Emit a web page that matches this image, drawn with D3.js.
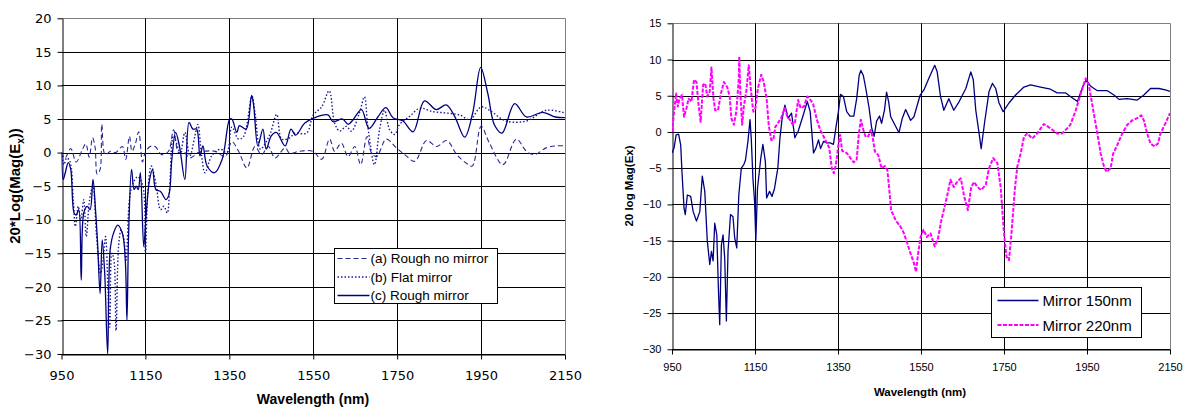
<!DOCTYPE html>
<html>
<head>
<meta charset="utf-8">
<script src="https://cdn.jsdelivr.net/npm/d3@7"></script>
<style>
  body { margin: 0; background: #fff; }
  svg { display: block; }
  text { font-family: "Liberation Sans", Arial, sans-serif; fill: #000; }
</style>
</head>
<body>
<svg id="chart" width="1184" height="409"></svg>
<script>
// wavelength ticks shared by both panels
const xTicks = [950, 1150, 1350, 1550, 1750, 1950, 2150];
const leftYTicks = [-30, -25, -20, -15, -10, -5, 0, 5, 10, 15, 20];
const rightYTicks = [-30, -25, -20, -15, -10, -5, 0, 5, 10, 15];

// left panel: [wavelength nm, 20*log(Mag(Ex))]
const roughNoMirror = [[950,0],[958,-0.85],[972,0.6],[985,-1.4],[1000,0.5],[1008,1.3],[1016,-0.7],[1024,2.2],[1030,0.8],[1035,-3.2],[1042,-2.5],[1046,4.2],[1054,-0.3],[1067,0.2],[1079,0],[1095,0.9],[1103,-1.0],[1112,2.4],[1118,0.2],[1126,1.3],[1134,3.1],[1143,-1.4],[1149,-0.1],[1161,0.9],[1173,0.9],[1189,-0.3],[1205,0.2],[1217,3.4],[1229,0],[1240,0.2],[1256,-0.8],[1276,0],[1292,0.2],[1316,0.2],[1340,-0.6],[1356,1.6],[1372,0.2],[1392,-2.3],[1411,0.9],[1427,-0.3],[1443,0.9],[1459,-0.8],[1483,0.7],[1494,-0.1],[1517,0.2],[1549,0.2],[1570,-1.0],[1589,2.0],[1601,0.2],[1617,1.4],[1633,-0.6],[1649,0.9],[1663,-1.8],[1678,2.4],[1689,-0.1],[1701,-0.6],[1724,2.0],[1748,0.7],[1768,-0.3],[1792,-1.3],[1820,1.8],[1844,0.9],[1868,1.8],[1892,-0.3],[1915,-1.6],[1929,-2.0],[1950,3.9],[1970,1.4],[2002,-1.8],[2034,2.0],[2058,0.2],[2077,-0.3],[2105,0.7],[2128,1.0],[2150,1.0]];

const flatMirror = [[950,0],[956,-1.8],[962,-0.8],[970,-1.3],[978,-7],[983,-11],[990,-8],[996,-10],[1003,-7],[1009,-12.5],[1017,-7],[1025,-5],[1033,-12],[1043,-18],[1049,-16],[1055,-12.5],[1061,-21],[1065,-26],[1070,-15],[1075,-16],[1080,-26.5],[1086,-14],[1092,-11.5],[1099,-13],[1104,-16],[1112,-7],[1120,-4.6],[1132,-3.6],[1144,-5],[1150,-15],[1156,-5.5],[1164,-2],[1175,-4.6],[1186,-8.5],[1194,-8],[1202,-9],[1208,-5],[1217,2.5],[1233,0],[1244,3],[1256,-0.5],[1268,2.5],[1275,4.2],[1284,-0.5],[1292,-3],[1308,-0.5],[1328,0.5],[1344,0],[1356,3.8],[1372,2],[1384,2.4],[1404,8.4],[1412,5.5],[1424,0.5],[1436,1.4],[1448,2.9],[1463,5.7],[1475,2],[1494,2.2],[1506,2.9],[1534,2.9],[1550,5.6],[1570,6.8],[1588,9.2],[1601,4.4],[1613,3.2],[1629,3.9],[1641,3.2],[1660,5.9],[1672,8.3],[1680,3.9],[1696,-1.8],[1708,3.4],[1720,6.3],[1732,3.4],[1744,2.7],[1756,4.2],[1780,5.4],[1804,6.6],[1835,6.1],[1867,5.9],[1899,5.6],[1923,4.9],[1950,6.8],[1970,6.3],[2010,4.7],[2058,4.7],[2105,6.3],[2150,5.9]];

const roughMirror = [[950,0],[954,-4],[959,-3],[966,-1.5],[972,-2.5],[980,-9],[985,-9.3],[991,-8.5],[997,-19],[1003,-9],[1011,-8],[1018,-8.5],[1025,-4],[1031,-8.5],[1036,-13.5],[1042,-21],[1047,-13],[1053,-18],[1060,-30],[1066,-14.5],[1074,-12],[1084,-10.8],[1095,-12],[1102,-16],[1106,-25],[1110,-12],[1117,-2.5],[1123,-5.5],[1128,-5],[1133,-5.5],[1138,-3],[1146,-14],[1152,-9],[1160,-4],[1167,-2.5],[1175,-5.5],[1186,-5.8],[1199,-7],[1206,-6.3],[1213,-1],[1222,3],[1231,1],[1244,-4],[1254,4.5],[1263,3.5],[1272,3.5],[1280,-0.5],[1287,1],[1297,-2],[1315,-3],[1333,-1],[1351,5],[1356,5],[1368,3],[1374,4],[1390,3.5],[1403,8.5],[1408,7],[1418,1],[1430,3.5],[1438,0.5],[1450,2.5],[1462,3],[1483,1],[1497,3.5],[1508,2.6],[1530,4.4],[1550,5.1],[1585,5.6],[1597,4.6],[1620,5.0],[1633,4.2],[1645,4.9],[1665,6.4],[1683,3.6],[1704,5.3],[1723,6.7],[1740,5.2],[1764,4.7],[1788,3.1],[1815,7.7],[1843,6.4],[1867,7.1],[1887,5.4],[1911,2.3],[1930,5.9],[1949,12.7],[1966,8.8],[1982,4.1],[2000,2.9],[2030,7.3],[2058,5.3],[2097,6.0],[2127,5.3],[2150,5.2]];

// right panel: [wavelength nm, 20 log Mag(Ex)]
const mirror150 = [[950,-2.9],[955,-2.2],[960,-0.4],[966,-0.3],[971,-1.8],[974,-5.5],[979,-10.5],[982,-11.4],[987,-8.7],[995,-8.9],[1001,-11],[1009,-12.3],[1017,-11],[1023,-6.1],[1029,-8.2],[1035,-15],[1041,-18.3],[1045,-16.5],[1049,-17.8],[1053,-12.6],[1058,-14.2],[1062,-22],[1065,-26.6],[1069,-15.6],[1073,-14.2],[1077,-17.4],[1081,-26.1],[1085,-16.5],[1091,-11.4],[1097,-11.7],[1101,-14.6],[1106,-16],[1111,-8.7],[1117,-5],[1123,-4.5],[1127,-3.9],[1133,-1.3],[1138,1.7],[1141,-0.9],[1145,-6.4],[1149,-9.6],[1152,-15],[1156,-7.8],[1164,-3.6],[1169,-1.7],[1175,-4.1],[1178,-9.1],[1185,-8.2],[1191,-8.9],[1197,-7.8],[1205,-5],[1210,-0.9],[1215,1.7],[1222,3.7],[1230,1.9],[1238,2.6],[1246,-0.8],[1254,0.1],[1265,2.1],[1276,4.2],[1283,2.8],[1286,0.6],[1291,-2.9],[1297,-2.2],[1303,-1.1],[1308,-2.3],[1315,-1.3],[1323,-1.5],[1331,-1.5],[1339,-1.7],[1345,0.6],[1351,2.8],[1356,5.2],[1363,4.9],[1371,2.8],[1379,2.2],[1388,2.2],[1395,4.6],[1401,7.8],[1405,8.5],[1411,7.8],[1417,6],[1425,3.3],[1431,0.6],[1437,-0.6],[1443,1.5],[1450,2.2],[1455,1.2],[1462,3],[1467,5.5],[1472,4.2],[1477,2.1],[1485,1.2],[1497,-0.1],[1505,1.9],[1513,3.1],[1525,1.6],[1533,2.1],[1548,5.1],[1557,5.8],[1569,7.4],[1583,9.2],[1589,8.3],[1597,4.9],[1605,3.0],[1617,4.6],[1629,3.0],[1642,4.2],[1658,6.0],[1670,8.3],[1676,7.2],[1682,3.0],[1690,-0.2],[1695,-2.3],[1703,1.2],[1714,5.6],[1722,6.7],[1730,6.0],[1738,4.0],[1748,2.8],[1762,4.0],[1778,5.1],[1798,6.2],[1814,6.5],[1838,6.2],[1862,5.9],[1878,5.4],[1898,5.4],[1910,4.9],[1927,4.2],[1940,6.3],[1948,7.2],[1959,6.3],[1975,5.7],[1999,5.7],[2015,5.1],[2027,4.5],[2047,4.6],[2071,4.4],[2087,5.1],[2103,6.0],[2123,6.0],[2139,5.8],[2150,5.6]];

const mirror220 = [[950,0],[955,2.8],[960,5.3],[964,3.5],[968,4.6],[974,5.1],[979,2.1],[985,3.3],[990,4.6],[997,4.2],[1003,7.2],[1009,6.9],[1014,3.7],[1019,1.4],[1025,6.5],[1030,6.7],[1035,4.9],[1041,5.6],[1045,8.9],[1050,4.6],[1054,3],[1061,3],[1067,5.1],[1075,6.9],[1083,6.2],[1089,4.9],[1093,1.9],[1099,1],[1105,2.8],[1111,7.4],[1112,10.4],[1115,5.1],[1119,1],[1123,3.5],[1129,5.6],[1135,9.2],[1139,6.5],[1143,4.2],[1146,2.8],[1151,3.3],[1157,6],[1165,7.9],[1171,6.9],[1178,4.6],[1183,1],[1189,-1.1],[1194,-1.1],[1199,0.7],[1205,1.2],[1213,1.9],[1217,2.6],[1222,3.3],[1228,2.1],[1234,1.7],[1241,1],[1246,1.2],[1254,4.4],[1260,3.3],[1268,3.5],[1276,4.9],[1284,4.4],[1290,3.9],[1299,1.7],[1307,0.3],[1315,-0.6],[1323,-1.5],[1329,-2.2],[1335,-5],[1340,-5.7],[1345,-4.5],[1351,-1.8],[1355,-0.4],[1360,-2.6],[1371,-2.9],[1380,-3.6],[1388,-4.2],[1395,-3.8],[1400,-0.4],[1405,1.7],[1411,0.3],[1417,-0.7],[1423,-0.6],[1429,0.3],[1434,-0.9],[1439,-2.7],[1447,-3.2],[1455,-5],[1463,-4.7],[1469,-5.3],[1473,-7.6],[1478,-10.8],[1489,-12.2],[1501,-13.1],[1509,-14.0],[1517,-15.4],[1525,-16.8],[1533,-18.1],[1538,-19.3],[1543,-16.8],[1549,-14.5],[1556,-13.5],[1564,-14.5],[1573,-14.0],[1583,-15.8],[1591,-14.7],[1599,-12.2],[1607,-10.3],[1615,-8.3],[1621,-6.6],[1629,-7.6],[1637,-6.9],[1646,-6.4],[1654,-8.9],[1663,-10.8],[1671,-7.6],[1678,-6.9],[1686,-7.6],[1695,-8.0],[1706,-7.3],[1714,-5.0],[1724,-3.6],[1734,-4.3],[1742,-7.6],[1750,-14.0],[1756,-17.2],[1762,-17.7],[1768,-14.0],[1776,-8.0],[1782,-4.8],[1790,-3.0],[1798,-0.7],[1806,-0.2],[1818,-0.9],[1830,-0.2],[1846,1.1],[1862,0.5],[1878,-0.2],[1890,-0.2],[1902,0.5],[1910,1.0],[1923,3.0],[1935,5.3],[1947,7.4],[1955,6.3],[1965,3.0],[1975,-0.2],[1983,-3.0],[1991,-4.8],[1997,-5.5],[2007,-5.0],[2013,-3.0],[2023,-1.8],[2035,-0.2],[2047,1.0],[2059,1.6],[2071,1.9],[2081,2.3],[2087,1.6],[2095,-0.2],[2103,-1.6],[2113,-2.0],[2121,-1.6],[2127,-0.2],[2139,1.2],[2150,2.6]];

const svg = d3.select("#chart");

// draws frame, grid and axes of one panel, returns scales + group
function panel(cfg) {
    const x = d3.scaleLinear().domain([950, 2150]).range([cfg.left, cfg.right]);
    const y = d3.scaleLinear().domain(cfg.yDomain).range([cfg.bottom, cfg.top]);
    const g = svg.append("g");

    // horizontal grid
    g.selectAll(".hgrid")
        .data(cfg.yTicks)
        .join("line")
        .attr("x1", cfg.left).attr("x2", cfg.right)
        .attr("y1", d => Math.round(y(d)) + 0.5).attr("y2", d => Math.round(y(d)) + 0.5)
        .attr("stroke", d => d === cfg.yDomain[1] ? cfg.frame : "#000")
        .attr("stroke-width", 1);

    // vertical grid
    g.selectAll(".vgrid")
        .data(xTicks.slice(1))
        .join("line")
        .attr("x1", d => Math.round(x(d)) + 0.5).attr("x2", d => Math.round(x(d)) + 0.5)
        .attr("y1", cfg.top).attr("y2", cfg.bottom)
        .attr("stroke", d => d === 2150 ? cfg.frame : "#000")
        .attr("stroke-width", 1);

    const clipId = "clip" + cfg.left;
    svg.append("clipPath").attr("id", clipId)
        .append("rect")
        .attr("x", cfg.left).attr("y", cfg.top - 2)
        .attr("width", cfg.right - cfg.left).attr("height", cfg.bottom - cfg.top + 3);

    const xAxis = d3.axisBottom(x).tickValues(xTicks).tickFormat(d3.format("d"))
        .tickSizeInner(5).tickSizeOuter(0).tickPadding(cfg.xPad);
    g.append("g")
        .attr("transform", `translate(0,${Math.round(cfg.bottom) + 0.5})`)
        .call(xAxis)
        .call(a => a.select(".domain").attr("stroke", "#000"))
        .selectAll("text")
        .style("font-family", cfg.tickFont)
        .style("font-size", cfg.tickSize + "px")
        .attr("fill", "#000");

    const yAxis = d3.axisLeft(y).tickValues(cfg.yTicks).tickFormat(d3.format("d"))
        .tickSizeInner(5).tickSizeOuter(0).tickPadding(cfg.yPad);
    g.append("g")
        .attr("transform", `translate(${Math.round(cfg.left) + 0.5},0)`)
        .call(yAxis)
        .call(a => a.select(".domain").attr("stroke", "#000"))
        .selectAll("text")
        .style("font-family", cfg.tickFont)
        .style("font-size", cfg.tickSize + "px")
        .attr("fill", "#000");

    return { x, y, g, clipId };
}

// ---------------- Left panel ----------------

const L = panel({
    left: 61.5, right: 565, top: 18.3, bottom: 354,
    yDomain: [-30, 20], yTicks: leftYTicks, frame: "#808080",
    tickFont: "DejaVu Sans, sans-serif", tickSize: 13, xPad: 11, yPad: 6
});

const smooth = d3.line()
    .x(d => L.x(d[0]))
    .y(d => L.y(d[1]))
    .curve(d3.curveCatmullRom.alpha(0.5));

const leftSeries = [
    { name: "(a) Rough no mirror", data: roughNoMirror, dash: "5,3", color: "#2a2a96", width: 1.1 },
    { name: "(b) Flat mirror", data: flatMirror, dash: "1.5,2", color: "#1a1a90", width: 1.4 },
    { name: "(c) Rough mirror", data: roughMirror, dash: null, color: "#000080", width: 1.3 }
];

leftSeries.forEach(s => {
    L.g.append("path")
        .datum(s.data)
        .attr("clip-path", `url(#${L.clipId})`)
        .attr("fill", "none")
        .attr("stroke", s.color)
        .attr("stroke-width", s.width)
        .attr("stroke-dasharray", s.dash)
        .attr("d", smooth);
});

// axis titles
svg.append("text")
    .attr("x", 313).attr("y", 404)
    .attr("text-anchor", "middle")
    .style("font-weight", "bold")
    .style("font-size", "14px")
    .text("Wavelength (nm)");

const lyTitle = svg.append("text")
    .attr("transform", "translate(20,186) rotate(-90)")
    .attr("text-anchor", "middle")
    .style("font-weight", "bold")
    .style("font-size", "15px");
lyTitle.append("tspan").text("20*Log(Mag(E");
lyTitle.append("tspan").attr("dy", 4).style("font-size", "10px").text("x");
lyTitle.append("tspan").attr("dy", -4).text("))");

// legend
const legL = svg.append("g").attr("transform", "translate(334.5,248.5)");
legL.append("rect")
    .attr("width", 163).attr("height", 55)
    .attr("fill", "#fff").attr("stroke", "#000");
leftSeries.forEach((s, i) => {
    const yy = 10 + i * 18.5;
    legL.append("line")
        .attr("x1", 3).attr("x2", 35)
        .attr("y1", yy).attr("y2", yy)
        .attr("stroke", s.color)
        .attr("stroke-width", s.width)
        .attr("stroke-dasharray", s.dash);
    legL.append("text")
        .attr("x", 36).attr("y", yy + 4.5)
        .style("font-size", "13.5px")
        .text(s.name);
});

// ---------------- Right panel ----------------

const R = panel({
    left: 672, right: 1170, top: 23.3, bottom: 349.3,
    yDomain: [-30, 15], yTicks: rightYTicks, frame: "#808080",
    tickFont: "Liberation Sans, Arial, sans-serif", tickSize: 11, xPad: 9, yPad: 6
});

const jagged = d3.line()
    .x(d => R.x(d[0]))
    .y(d => R.y(d[1]));

const rightSeries = [
    { name: "Mirror 150nm", data: mirror150, dash: null, color: "#000080", width: 1.3 },
    { name: "Mirror 220nm", data: mirror220, dash: "4,1.5", color: "#ff00ff", width: 2 }
];

rightSeries.forEach(s => {
    R.g.append("path")
        .datum(s.data)
        .attr("clip-path", `url(#${R.clipId})`)
        .attr("fill", "none")
        .attr("stroke", s.color)
        .attr("stroke-width", s.width)
        .attr("stroke-dasharray", s.dash)
        .attr("stroke-linejoin", "round")
        .attr("d", jagged);
});

svg.append("text")
    .attr("x", 920).attr("y", 396)
    .attr("text-anchor", "middle")
    .style("font-weight", "bold")
    .style("font-size", "11.5px")
    .text("Wavelength (nm)");

svg.append("text")
    .attr("transform", "translate(633,186) rotate(-90)")
    .attr("text-anchor", "middle")
    .style("font-weight", "bold")
    .style("font-size", "11.5px")
    .text("20 log Mag(Ex)");

const legR = svg.append("g").attr("transform", "translate(991.5,287.5)");
legR.append("rect")
    .attr("width", 150).attr("height", 50)
    .attr("fill", "#fff").attr("stroke", "#000");
rightSeries.forEach((s, i) => {
    const yy = 13 + i * 24.5;
    legR.append("line")
        .attr("x1", 6).attr("x2", 47)
        .attr("y1", yy).attr("y2", yy)
        .attr("stroke", s.color)
        .attr("stroke-width", s.width)
        .attr("stroke-dasharray", s.dash);
    legR.append("text")
        .attr("x", 51).attr("y", yy + 5.5)
        .style("font-size", "15px")
        .text(s.name);
});
</script>
</body>
</html>
